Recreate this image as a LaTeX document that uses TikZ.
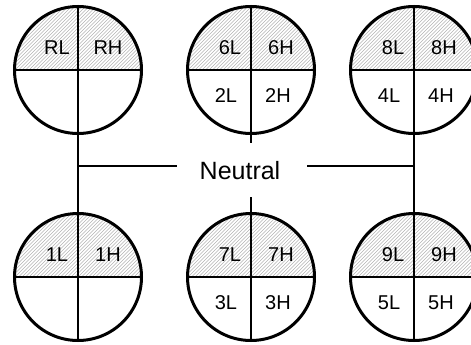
\documentclass[tikz,border=0pt]{standalone}
\usepackage{fontspec}
\setmainfont{Liberation Sans}
\tikzset{
  ring/.style={circle, draw, line width=3pt, minimum size=127pt, inner sep=0pt},
  divider/.style={line width=2pt},
  wire/.style={line width=2pt},
  hatch/.style={draw=black!30, line width=0.6pt},
  qlabel/.style={font=\fontsize{20pt}{22pt}\selectfont, inner sep=0pt},
  neutrallabel/.style={font=\fontsize{25pt}{28pt}\selectfont, inner sep=0pt}
}
\newcommand{\hatchedring}[7]{%
  % #1 name, #2 cx, #3 cy, #4 UL, #5 UR, #6 LL, #7 LR
  \begin{scope}
    \clip (#2-70,#3-70) rectangle (#2+70,#3);
    \clip (#2,#3) circle (63.5);
    \foreach \i in {-140,-136.5,...,72} {
      \draw[hatch] (#2+\i,#3) -- (#2+\i+70,#3-70);
    }
  \end{scope}
  \node[ring] (#1) at (#2,#3) {};
  \draw[divider] (#1.west) -- (#1.east);
  \draw[divider] (#1.north) -- (#1.south);
  \node[qlabel] (#1ul) at (#2-21,#3-22) {#4};
  \node[qlabel] (#1ur) at (#2+30,#3-22) {#5};
  \node[qlabel] (#1ll) at (#2-25,#3+26) {#6};
  \node[qlabel] (#1lr) at (#2+27,#3+26) {#7};
}
\begin{document}
\begin{tikzpicture}[x=1pt,y=-1pt]
\useasboundingbox (0,0) rectangle (471,345);
\hatchedring{ca}{78}{70}{RL}{RH}{}{}
\hatchedring{cb}{251}{70}{6L}{6H}{2L}{2H}
\hatchedring{cc}{414}{70}{8L}{8H}{4L}{4H}
\hatchedring{cd}{78}{277}{1L}{1H}{}{}
\hatchedring{ce}{251}{277}{7L}{7H}{3L}{3H}
\hatchedring{cf}{414}{277}{9L}{9H}{5L}{5H}
\node[neutrallabel] (neutral) at (240,171) {Neutral};
\coordinate (jl) at (78,166);
\coordinate (nl) at (177,166);
\coordinate (nr) at (307,166);
\coordinate (jr) at (414,166);
\coordinate (s1) at (251,143);
\coordinate (s2) at (251,197);
\draw[wire] (ca.south) -- (cd.north);
\draw[wire] (cc.south) -- (cf.north);
\draw[wire] (jl) -- (nl);
\draw[wire] (nr) -- (jr);
\draw[wire] (cb.south) -- (s1);
\draw[wire] (s2) -- (ce.north);
\end{tikzpicture}
\end{document}
